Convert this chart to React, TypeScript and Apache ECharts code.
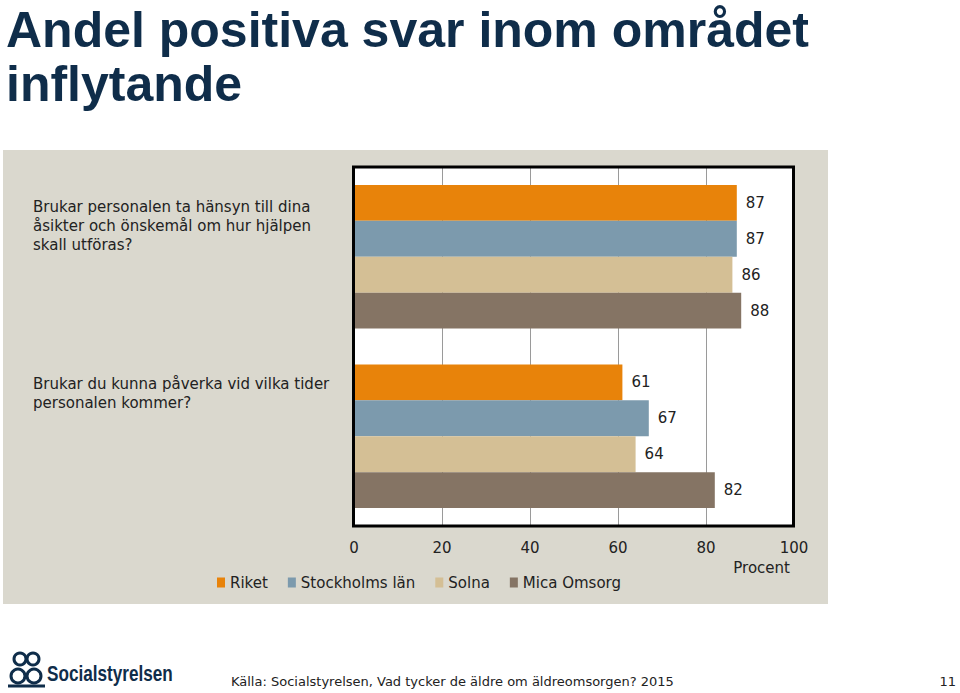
import React, { useEffect, useRef } from "react";
import * as echarts from "echarts";

const categories = [
  "Brukar personalen ta hänsyn till dina\nåsikter och önskemål om hur hjälpen\nskall utföras?",
  "Brukar du kunna påverka vid vilka tider\npersonalen kommer?",
];
const seriesNames = ["Riket", "Stockholms län", "Solna", "Mica Omsorg"];
const riket = [87, 61];
const stockholm = [87, 67];
const solna = [86, 64];
const mica = [88, 82];
const axisName = "Procent";
const titleLines = ["Andel positiva svar inom området", "inflytande"];
const sourceText = "Källa: Socialstyrelsen, Vad tycker de äldre om äldreomsorgen? 2015";
const pageNumber = "11";
const logoText = "Socialstyrelsen";

const colors = ["#E8830A", "#7C9AAD", "#D4BF95", "#857464"];
const FONT = "DejaVu Sans";
const GL = 354, GT = 167, GW = 440, GH = 359;

export default function App() {
  const ref = useRef<HTMLDivElement>(null);
  useEffect(() => {
    if (!ref.current) return;
    const chart = echarts.init(ref.current, null, { renderer: "svg" });
    const values = [riket, stockholm, solna, mica];
    const spacer = [62, 85];
    chart.setOption({
      animation: false,
      backgroundColor: "#ffffff",
      textStyle: { fontFamily: FONT },
      grid: {
        left: GL, top: GT, width: GW, height: GH,
        show: true, backgroundColor: "#ffffff", borderWidth: 0,
        containLabel: false, outerBoundsMode: "none",
      },
      legend: {
        left: 212, top: 570,
        icon: "rect", itemWidth: 8, itemHeight: 10, itemGap: 20,
        textStyle: { fontSize: 15, color: "#222", fontFamily: FONT },
        data: seriesNames,
      },
      xAxis: {
        type: "value", min: 0, max: 100, interval: 20,
        axisLine: { show: false }, axisTick: { show: false },
        axisLabel: { margin: 14, fontSize: 15, color: "#222", fontFamily: FONT },
        splitLine: { show: true, lineStyle: { color: "#9a9a9a", width: 1 } },
        name: axisName, nameLocation: "end", nameGap: -4,
        nameTextStyle: { align: "right", verticalAlign: "top", padding: [34, 0, 0, 0], fontSize: 15, color: "#222", fontFamily: FONT },
      },
      yAxis: {
        type: "category", inverse: true,
        data: categories,
        axisLine: { show: false }, axisTick: { show: false },
        axisLabel: {
          align: "left", verticalAlign: "middle", fontSize: 15, lineHeight: 19, color: "#222", fontFamily: FONT,
          margin: GL - 33,
          formatter: (v: string, i: number) => `${v}\n{s${i}| }`,
          rich: {
            s0: { height: spacer[0], lineHeight: spacer[0], fontSize: 1 },
            s1: { height: spacer[1], lineHeight: spacer[1], fontSize: 1 },
          },
        },
      },
      series: seriesNames.map((n, i) => ({
        name: n, type: "bar", data: values[i], barGap: 0, barCategoryGap: "20%",
        itemStyle: { color: colors[i] },
        label: { show: true, position: "right", distance: 9, fontSize: 15, color: "#222", fontFamily: FONT },
      })),
      graphic: [
        { type: "rect", z: -10, shape: { x: 3, y: 150, width: 825, height: 454 }, style: { fill: "#DAD8CE" } },
        { type: "rect", z: 100, shape: { x: GL - 0.5, y: GT, width: GW, height: GH }, style: { fill: "none", stroke: "#000", lineWidth: 3 } },
        { type: "text", x: 6, y: 5, style: { text: titleLines[0], font: "bold 50px 'Liberation Sans'", fill: "#0F2D4A", lineHeight: 50, textVerticalAlign: "top" } },
        { type: "text", x: 6, y: 59, style: { text: titleLines[1], font: "bold 50px 'Liberation Sans'", fill: "#0F2D4A", lineHeight: 50, textVerticalAlign: "top" } },
        { type: "text", x: 231, y: 681, style: { text: sourceText, font: `13px '${FONT}'`, fill: "#222", textVerticalAlign: "middle" } },
        { type: "text", x: 956, y: 681, style: { text: pageNumber, font: `13px '${FONT}'`, fill: "#222", textAlign: "right", textVerticalAlign: "middle" } },
        { type: "text", x: 47, y: 673, scaleX: 0.78, style: { text: logoText, font: "bold 22px 'Liberation Sans'", fill: "#0F2D4A", textVerticalAlign: "middle" } },
        { type: "circle", shape: { cx: 20, cy: 659, r: 6 }, style: { fill: "none", stroke: "#0F2D4A", lineWidth: 3 } },
        { type: "circle", shape: { cx: 33, cy: 659, r: 6 }, style: { fill: "none", stroke: "#0F2D4A", lineWidth: 3 } },
        { type: "circle", shape: { cx: 18, cy: 676, r: 7 }, style: { fill: "none", stroke: "#0F2D4A", lineWidth: 3 } },
        { type: "circle", shape: { cx: 34, cy: 676, r: 7 }, style: { fill: "none", stroke: "#0F2D4A", lineWidth: 3 } },
        { type: "line", shape: { x1: 8, y1: 686, x2: 45, y2: 686 }, style: { stroke: "#0F2D4A", lineWidth: 3 } },
      ],
    });
    return () => chart.dispose();
  }, []);
  return <div ref={ref} style={{ position: "fixed", left: 0, top: 0, width: 960, height: 693 }} />;
}
